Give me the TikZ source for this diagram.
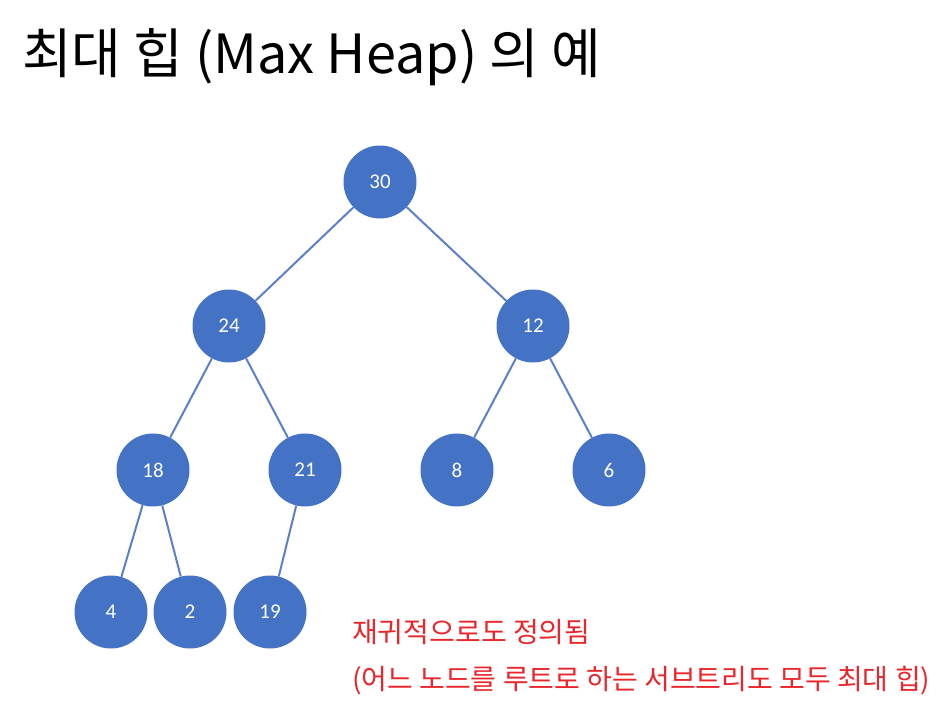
\documentclass[tikz,border=0pt]{standalone}
\usepackage{fontspec}
\setmainfont{Carlito}
\newfontfamily\kr{Noto Sans CJK KR}
\definecolor{nodeblue}{HTML}{4472C4}
\definecolor{edgeblue}{HTML}{5B7FC8}
\definecolor{notered}{HTML}{E8262B}
\begin{document}
\begin{tikzpicture}[x=1pt,y=-1pt,
  heapnode/.style={circle,fill=nodeblue,minimum size=73pt,inner sep=0pt,text=white,font=\fontsize{21}{24}\selectfont},
  heapedge/.style={draw=edgeblue,line width=2pt}]
\useasboundingbox[fill=white] (0,0) rectangle (943,707);
\node[anchor=west,inner sep=0pt,font=\kr\fontsize{54}{60}\selectfont] (title) at (22,57) {최대 힙 (Max Heap) 의 예};
\node[heapnode] (n30) at (380,182) {30};
\node[heapnode] (n24) at (229,326) {24};
\node[heapnode] (n12) at (533,326) {12};
\node[heapnode] (n18) at (153,470) {18};
\node[heapnode] (n21) at (305,470) {21};
\node[heapnode] (n8) at (457,470) {8};
\node[heapnode] (n6) at (609,470) {6};
\node[heapnode] (n4) at (111,612) {4};
\node[heapnode] (n2) at (190,612) {2};
\node[heapnode] (n19) at (270,612) {19};
\path[heapedge] (n30) -- (n24);
\path[heapedge] (n30) -- (n12);
\path[heapedge] (n24) -- (n18);
\path[heapedge] (n24) -- (n21);
\path[heapedge] (n12) -- (n8);
\path[heapedge] (n12) -- (n6);
\path[heapedge] (n18) -- (n4);
\path[heapedge] (n18) -- (n2);
\path[heapedge] (n21) -- (n19);
\node[anchor=west,inner sep=0pt,text=notered,font=\kr\fontsize{28}{32}\selectfont] (note1) at (352,632) {재귀적으로도 정의됨};
\node[anchor=west,inner sep=0pt,text=notered,font=\kr\fontsize{28}{32}\selectfont] (note2) at (352,681) {(어느 노드를 루트로 하는 서브트리도 모두 최대 힙)};
\end{tikzpicture}
\end{document}
